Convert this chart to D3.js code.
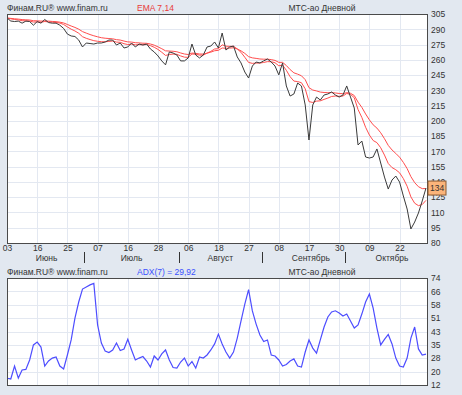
<!DOCTYPE html>
<html>
<head>
<meta charset="utf-8">
<script src="https://cdn.jsdelivr.net/npm/d3@7"></script>
<style>
body { margin: 0; background: #e2e8f0; }
svg { display: block; font-family: "Liberation Sans", Arial, sans-serif; }
.lbl { font-size: 8.5px; fill: #333; }
</style>
</head>
<body>
<svg width="462" height="395"></svg>
<script>
// MTS daily close, Jun 03 .. Oct 2008 (one value per trading bar)
var closes = [301.1,298.1,297.6,298,296,298,297.6,294,297.6,296,299.6,296.6,296,296,294,290.8,285.3,283.4,282.9,279.4,
  272.6,276.5,276,275.5,276.5,276.5,277.5,279.4,279.4,274.5,276.5,271.6,272.6,276.5,272.6,275.5,274.5,275.5,270.6,267.7,
  263.8,258.9,255,267.7,266.7,264.7,258.9,258.9,261.8,275.5,264.7,261.8,264.7,272.6,273.5,277.5,271.6,286.3,269.6,272.6,
  273.5,262.8,256.9,248,242.1,253.9,257.8,256.9,258.9,260.8,257.8,253.9,245.2,256.9,234.3,224.4,226.4,237.2,234.3,215.6,
  181.2,215.6,223.4,220.5,225.4,226.4,228.4,225.4,223.4,225.4,234.3,223.4,212.6,176.3,180.2,164.5,163.5,164.5,172.4,158.6,
  144.8,133,141.9,145.8,139.9,126.2,113.4,93.8,100.6,109.5,121.3,134];
var ema7 = [301,300.3,299.6,299.2,298.4,298.3,298.1,297.1,297.2,296.9,297.6,297.3,297,296.7,296.1,294.7,292.3,290.1,288.3,286.1,
  282.7,281.1,279.9,278.8,278.2,277.8,277.7,278.1,278.4,277.4,277.2,275.8,275,275.4,274.7,274.9,274.8,275,273.9,272.3,
  270.2,267.4,264.3,265.2,265.6,265.4,263.8,262.6,262.4,265.7,265.5,264.6,264.6,266.6,268.3,270.6,270.9,274.7,273.4,273.2,
  273.3,270.7,267.3,262.5,257.4,256.5,256.8,256.8,257.4,258.2,258.1,257.1,254.1,254.8,249.7,243.4,239.1,238.6,237.5,231.5,
  218.9,218.1,219.4,219.7,221.1,222.4,224,224.4,224.1,224.4,226.9,226,222.7,211.1,203.4,193.7,186.1,180.7,178.6,173.6,
  166.4,158.1,154.1,152,149,143.3,135.8,125.3,119.1,116.7,117.8,121.9];
var ema14 = [301.1,300.7,300.3,300,299.5,299.3,299.1,298.4,298.3,298,298.2,298,297.7,297.5,297,296.2,294.7,293.2,291.8,290.1,
  287.7,286.2,284.8,283.6,282.6,281.7,281.2,280.9,280.6,279.8,279.4,278.4,277.6,277.4,276.8,276.6,276.3,276.2,275.5,274.4,
  272.7,270.9,268.8,268.6,268.4,267.9,266.7,265.7,265.2,266.6,266.3,265.7,265.6,266.5,267.5,268.9,269.3,271.6,271.3,271.5,
  271.8,270.6,268.8,266.3,263.1,261.9,261.4,260.8,260.6,260.6,260.2,259.4,257.5,257.5,254.4,250.4,247.2,245.9,244.3,240.5,
  232.6,230.3,229.4,228.3,227.9,227.7,227.8,227.4,226.9,226.7,227.7,227.1,224.9,218.4,213.3,206.8,201,196.1,192.9,188.3,
  182.5,175.9,171.4,168,164.3,159.2,153.1,145.2,139.3,135.3,133.4,133.5];
var adx = [15.9,15.5,23,16,20.7,21,26.5,35.2,36.9,34,23,25.9,27.6,28.2,23,21.3,29.4,38.1,50.8,60.1,
  67.6,68.8,70,70.9,46.8,36.3,31.7,30.8,32.3,36.3,32,32.9,38.5,32.3,26.5,27.6,28.5,25.9,22.4,28.8,
  26.5,30,32.3,26.5,22.1,21.8,25.3,27.6,23,25.6,21.8,28.2,27.6,29.4,32.3,35.8,41.5,35.8,31.1,27.6,
  31.1,39.2,49.1,58.9,67.3,54.9,47.3,41,37.2,38.1,29.4,28.8,26.5,23,23.9,25.9,27.1,23,22.4,31.1,
  38.1,33.4,30.5,38.1,45.6,51.4,54.3,55,53.7,52,53.1,49.1,45,46.8,53.1,60.1,64.7,56.6,45,35.2,
  38.4,41.3,35.8,27.6,23,22.4,27.6,39.2,45.6,32.9,29.4,29.9];

var dateIdx = [0,8,16,24,32,40,48,56,64,72,80,88,96,104];
var dateLabels = ["03","16","25","07","16","28","06","18","27","08","17","30","09","22"];
var monthNames = ["Июнь","Июль","Август","Сентябрь","Октябрь"];
var monthSep = [20.5,45.5,67.5,89.5];
var monthLabelIdx = [10.5,33,56.5,80.5,102];
var priceTicks = d3.range(80, 306, 15);
var adxTickVals = [12,19.75,27.5,35.25,43,50.75,58.5,66.25,74];
var adxTickLabels = ["12","20","28","35","43","51","58","66","74"];
var lastPrice = 134;
var adxLast = "29,92";

var svg = d3.select("svg");
var left = 7, right = 428;
var x = d3.scaleLinear().domain([0, closes.length - 1]).range([7, 426]);
var yP = d3.scaleLinear().domain([80, 305]).range([243, 14]);
var yA = d3.scaleLinear().domain([12, 74]).range([385, 278]);

function panel(y, ticks, labels) {
  var g = svg.append("g");
  g.append("rect").attr("x", left).attr("y", y.range()[1]).attr("width", right - left)
    .attr("height", y.range()[0] - y.range()[1]).attr("fill", "white");
  // grid
  g.selectAll(".hg").data(ticks).enter().append("line")
    .attr("x1", left).attr("x2", right).attr("y1", d => Math.round(y(d)) + 0.5).attr("y2", d => Math.round(y(d)) + 0.5)
    .attr("stroke", "#e3e8f1");
  g.selectAll(".vg").data(dateIdx).enter().append("line")
    .attr("x1", d => Math.round(x(d)) + 0.5).attr("x2", d => Math.round(x(d)) + 0.5)
    .attr("y1", y.range()[1]).attr("y2", y.range()[0]).attr("stroke", "#e3e8f1");
  var ax = d3.axisRight(y).tickValues(ticks).tickSize(0).tickPadding(3)
    .tickFormat((d, i) => labels ? labels[i] : d);
  var axG = svg.append("g").attr("transform", `translate(${right},0)`).call(ax);
  axG.select(".domain").remove();
  axG.selectAll("text").attr("class", "lbl").style("font-size", "8.5px").attr("fill", "#333");
  return g;
}

panel(yP, priceTicks);
panel(yA, adxTickVals, adxTickLabels);

// price + EMAs
var lineOf = arr => d3.line().x((d, i) => x(i)).y(d => yP(d))(arr);
svg.append("path").attr("d", lineOf(ema14)).attr("fill", "none").attr("stroke", "#ff4d4d").attr("stroke-width", 1);
svg.append("path").attr("d", lineOf(ema7)).attr("fill", "none").attr("stroke", "#ff4d4d").attr("stroke-width", 1);
svg.append("path").attr("d", lineOf(closes)).attr("fill", "none").attr("stroke", "#3a3a3a").attr("stroke-width", 1);

// ADX
svg.append("path").attr("d", d3.line().x((d, i) => x(i)).y(d => yA(d))(adx))
  .attr("fill", "none").attr("stroke", "#4d4dff").attr("stroke-width", 1.2);

// borders
[yP, yA].forEach(function (y) {
  svg.append("rect").attr("x", left + 0.5).attr("y", y.range()[1] + 0.5).attr("width", right - left - 1)
    .attr("height", y.range()[0] - y.range()[1]).attr("fill", "none").attr("stroke", "#4a4a4a");
});

// last price box
var by = yP(lastPrice);
svg.append("rect").attr("x", right).attr("y", by - 7).attr("width", 18).attr("height", 14)
  .attr("fill", "#fbb47a").attr("stroke", "#8a5a30");
svg.append("text").attr("class", "lbl").attr("x", right + 2).attr("y", by + 3).text(lastPrice);

// date axis
var xAx = d3.axisBottom(x).tickValues(dateIdx).tickSize(0).tickPadding(2).tickFormat((d, i) => dateLabels[i]);
var xG = svg.append("g").attr("transform", "translate(0,243)").call(xAx);
xG.select(".domain").remove();
xG.selectAll("text").attr("class", "lbl").style("font-size", "8.5px").attr("fill", "#333");

svg.selectAll(".msep").data(monthSep).enter().append("line")
  .attr("x1", d => Math.round(x(d)) + 0.5).attr("x2", d => Math.round(x(d)) + 0.5)
  .attr("y1", 252).attr("y2", 263).attr("stroke", "#333");
svg.selectAll(".mlbl").data(monthNames).enter().append("text").attr("class", "lbl")
  .attr("x", (d, i) => x(monthLabelIdx[i])).attr("y", 261).attr("text-anchor", "middle").text(d => d);

// headers
function header(y, ind, col) {
  svg.append("text").attr("class", "lbl").attr("x", 7).attr("y", y).text("Финам.RU®  www.finam.ru");
  svg.append("text").attr("class", "lbl").attr("x", 137).attr("y", y).attr("fill", col).style("fill", col).text(ind);
  svg.append("text").attr("class", "lbl").attr("x", 322).attr("y", y).attr("text-anchor", "middle").text("МТС-ао Дневной");
}
header(11, "EMA 7,14", "#e83a3a");
header(275, "ADX(7) = " + adxLast, "#3a50ff");
</script>
</body>
</html>
